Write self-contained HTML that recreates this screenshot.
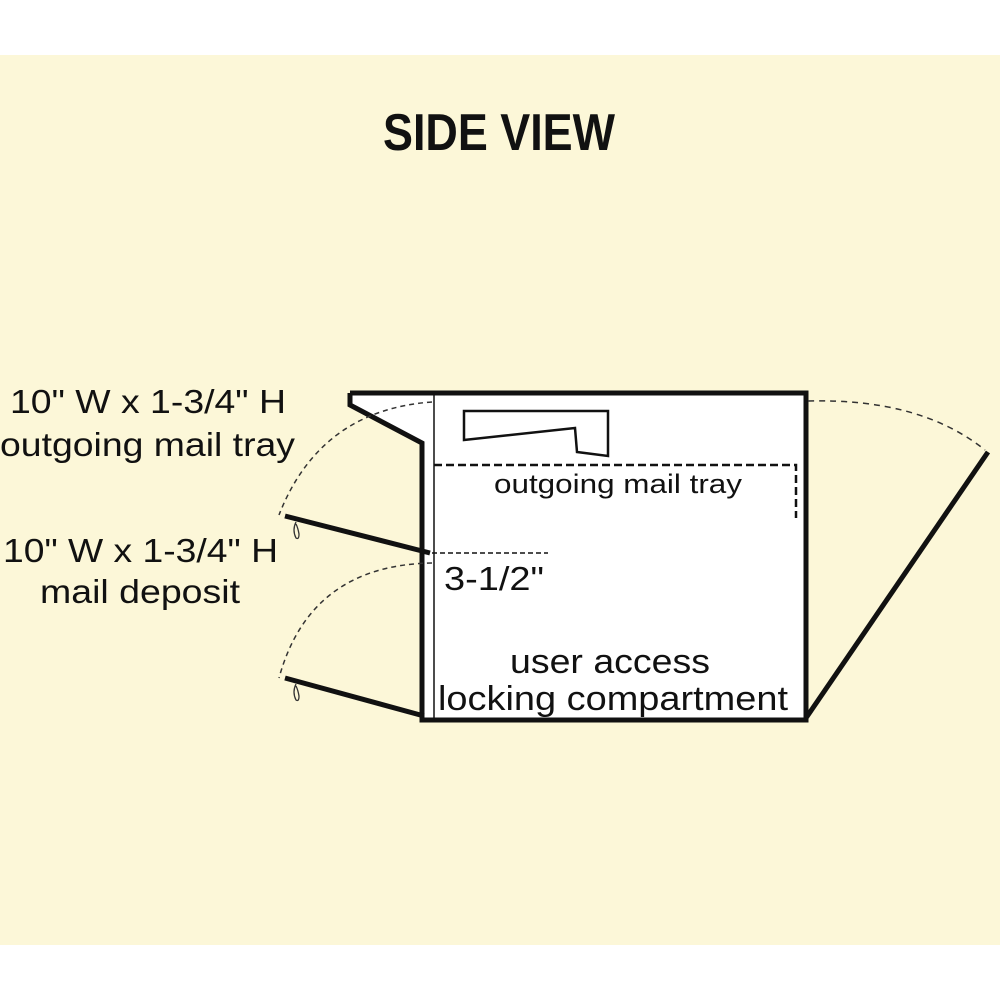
<!DOCTYPE html>
<html><head><meta charset="utf-8"><style>
html,body{margin:0;padding:0;background:#fff}
svg{display:block}
text{font-family:"Liberation Sans",Arial,sans-serif;fill:#111}
</style></head><body>
<svg width="1000" height="1000" viewBox="0 0 1000 1000" xmlns="http://www.w3.org/2000/svg">
<rect x="0" y="0" width="1000" height="1000" fill="#fff"/>
<rect x="0" y="55" width="1000" height="890" fill="#fcf7d8"/>
<text x="383" y="150" font-family="Liberation Sans Narrow, Liberation Sans, sans-serif" font-weight="bold" font-size="52" textLength="232" lengthAdjust="spacingAndGlyphs">SIDE VIEW</text>

<polygon points="350,393 806,393 806,720 422,720 422,443 350,405" fill="#fff"/>
<polyline points="350,393 806,393 806,720 422,720 422,443 350,405 350,393" fill="none" stroke="#111" stroke-width="5" stroke-linejoin="miter"/>
<line x1="434" y1="393" x2="434" y2="720" stroke="#111" stroke-width="1.5"/>

<polygon points="464,411 608,411 608,456 577,452 575,428 464,440" fill="none" stroke="#111" stroke-width="2.5"/>

<polyline points="434,465 796,465 796,518" fill="none" stroke="#111" stroke-width="2.5" stroke-dasharray="8,4"/>
<line x1="432" y1="553" x2="548" y2="553" stroke="#111" stroke-width="1.5" stroke-dasharray="5,3"/>

<path d="M432,402 Q320,410 279,515" fill="none" stroke="#333" stroke-width="1.5" stroke-dasharray="5,4"/>
<path d="M432,563 Q310,565 279,678" fill="none" stroke="#333" stroke-width="1.5" stroke-dasharray="5,4"/>
<path d="M808,401 Q920,398 985,450" fill="none" stroke="#333" stroke-width="1.5" stroke-dasharray="6,5"/>

<line x1="285" y1="516" x2="430" y2="553" stroke="#111" stroke-width="5"/>
<line x1="285" y1="678" x2="424" y2="716" stroke="#111" stroke-width="5"/>
<line x1="806" y1="718" x2="988" y2="452" stroke="#111" stroke-width="5"/>
<path d="M296,522 q-4,8 0,16 q3,2 3,-4 q-1,-6 -3,-10" fill="none" stroke="#333" stroke-width="1.3"/>
<path d="M296,684 q-4,8 0,16 q3,2 3,-4 q-1,-6 -3,-10" fill="none" stroke="#333" stroke-width="1.3"/>

<text x="10" y="413" font-size="33" textLength="276" lengthAdjust="spacingAndGlyphs">10" W x 1-3/4" H</text>
<text x="0" y="456" font-size="33" textLength="295" lengthAdjust="spacingAndGlyphs">outgoing mail tray</text>
<text x="3" y="562" font-size="33" textLength="275" lengthAdjust="spacingAndGlyphs">10" W x 1-3/4" H</text>
<text x="40" y="603" font-size="33" textLength="200" lengthAdjust="spacingAndGlyphs">mail deposit</text>

<text x="494" y="493" font-size="27" textLength="248" lengthAdjust="spacingAndGlyphs">outgoing mail tray</text>
<text x="444" y="590" font-size="33" textLength="100" lengthAdjust="spacingAndGlyphs">3-1/2"</text>
<text x="510" y="673" font-size="34" textLength="200" lengthAdjust="spacingAndGlyphs">user access</text>
<text x="438" y="710" font-size="34" textLength="350" lengthAdjust="spacingAndGlyphs">locking compartment</text>
</svg>
</body></html>
